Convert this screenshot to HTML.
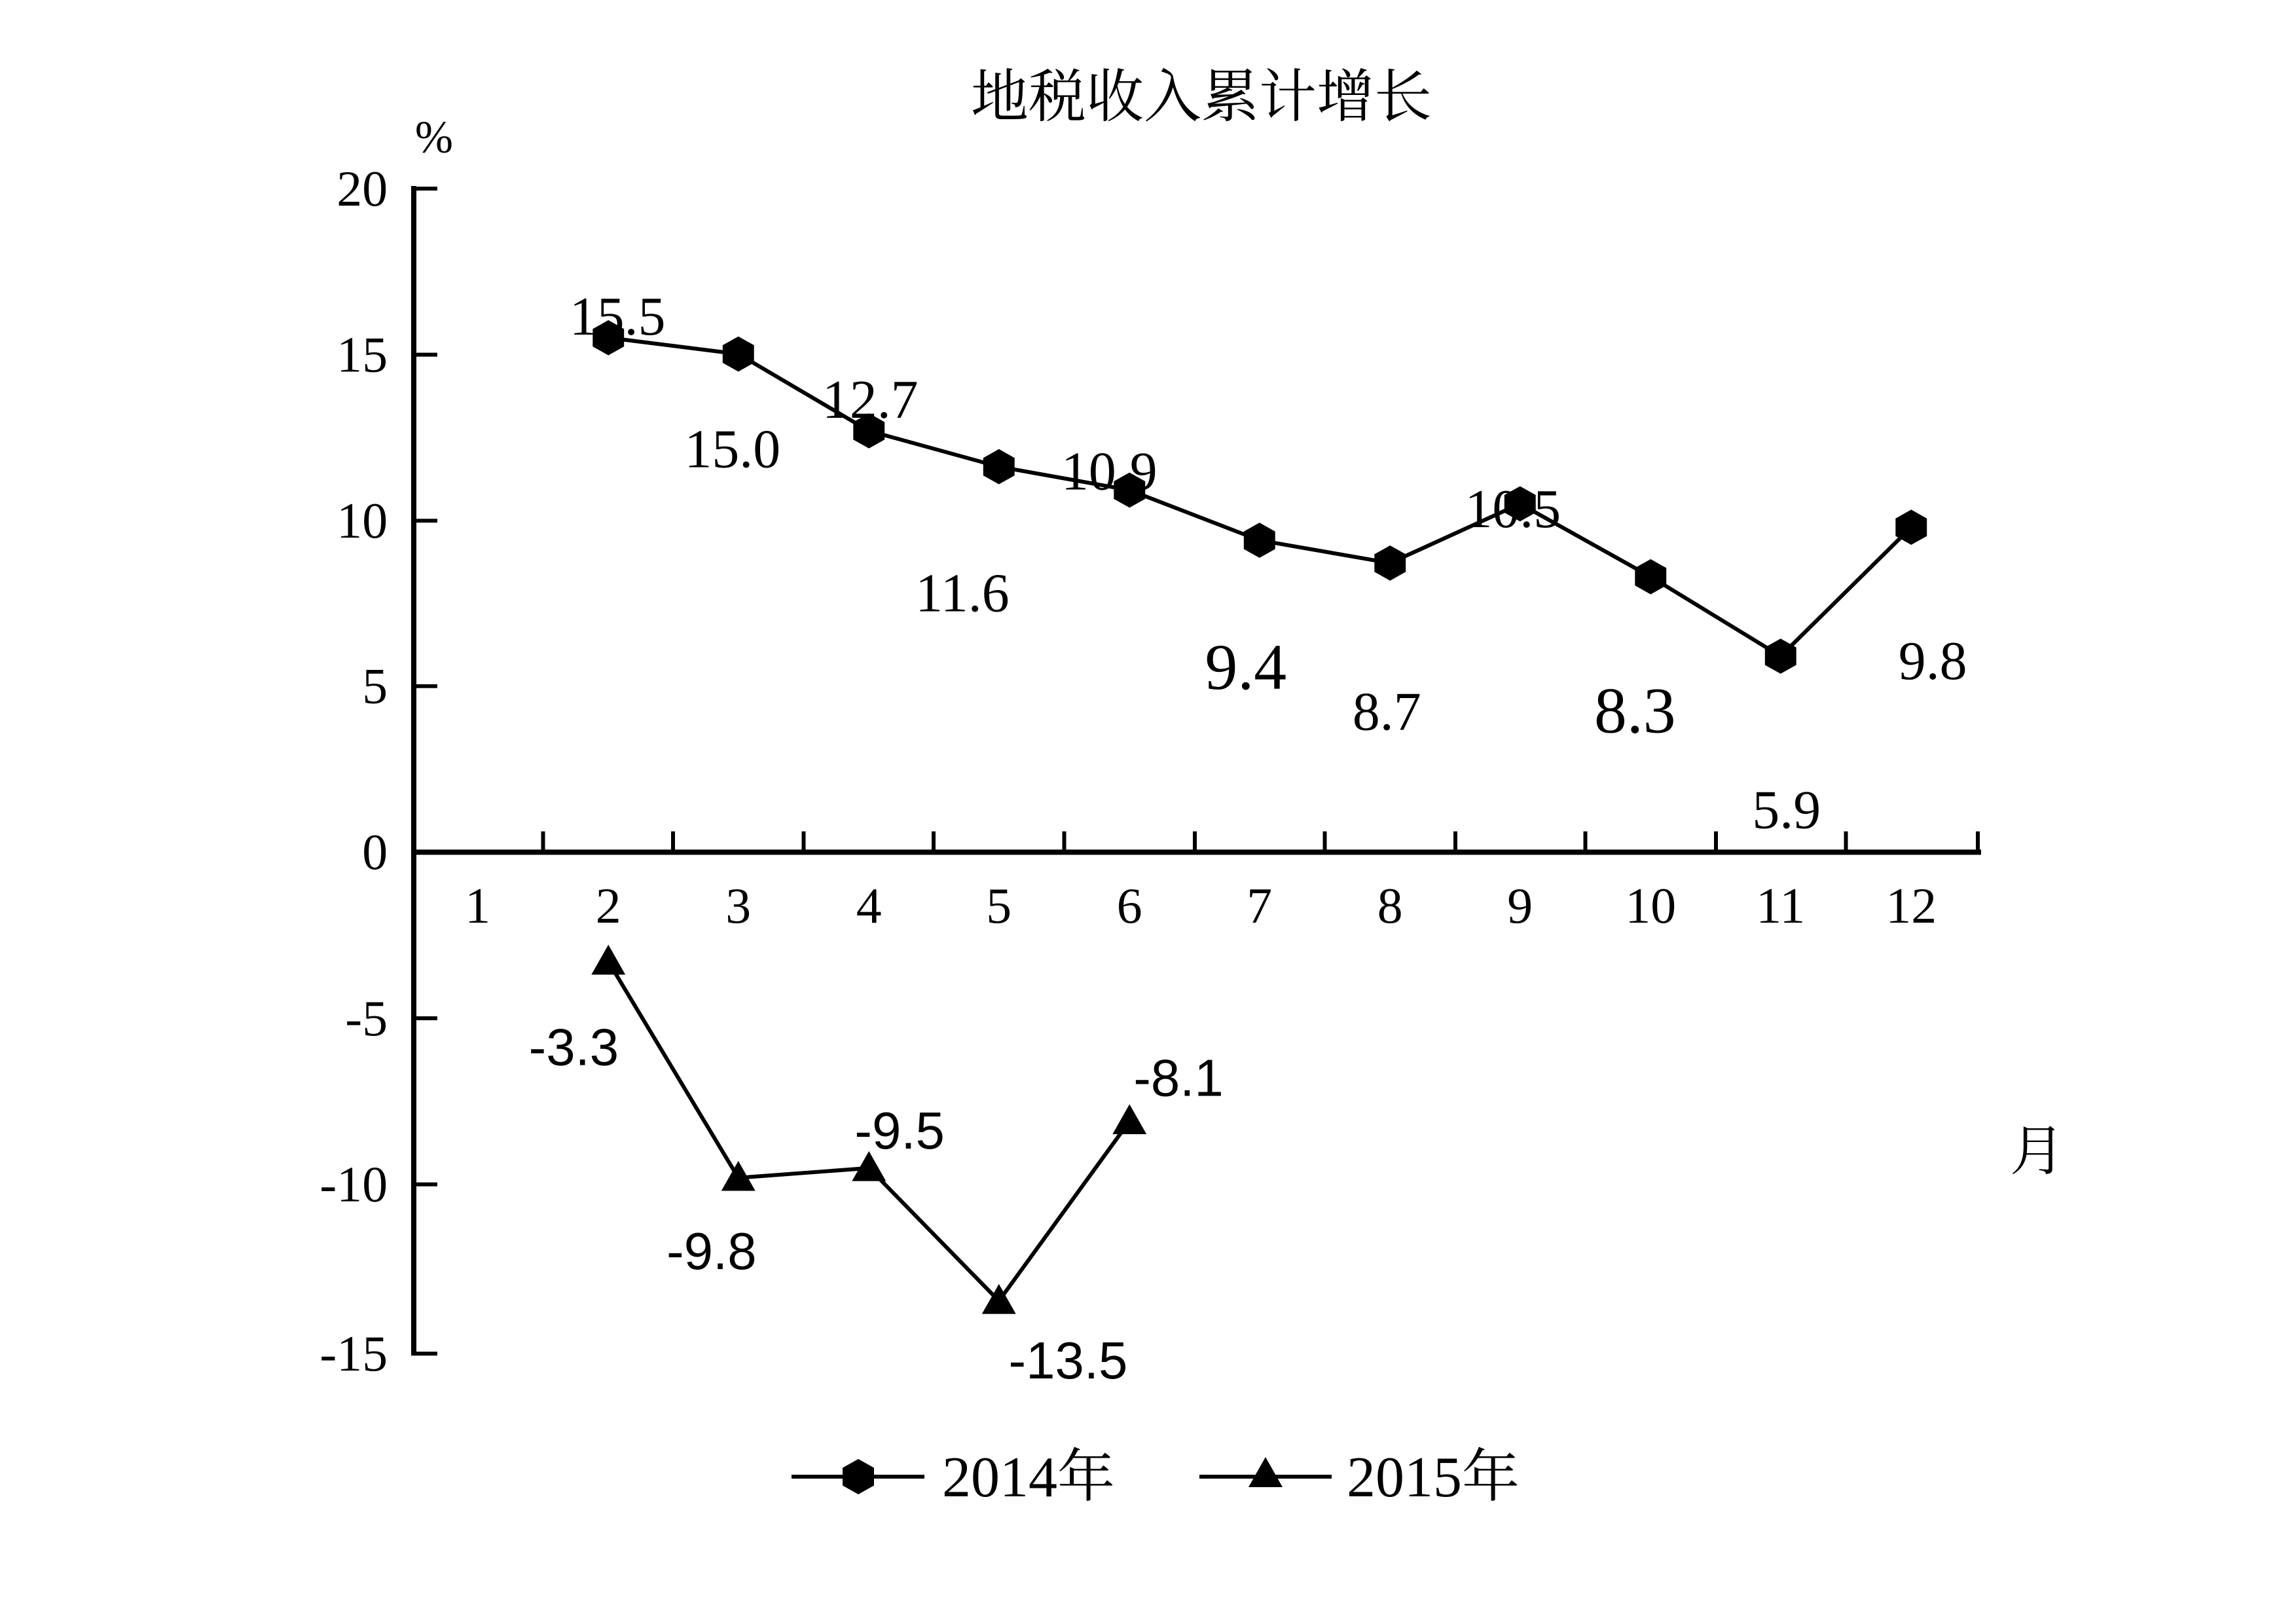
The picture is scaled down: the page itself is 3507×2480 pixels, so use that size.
<!DOCTYPE html>
<html><head><meta charset="utf-8"><style>
html,body{margin:0;padding:0;background:#fff}
svg{display:block}
.s{font-family:"Liberation Serif","Noto Serif CJK SC",serif;fill:#000}
.a{font-family:"Liberation Sans","Noto Sans CJK SC",sans-serif;fill:#000}
</style></head><body>
<svg width="3507" height="2480" viewBox="0 0 3507 2480" xmlns="http://www.w3.org/2000/svg">
<defs>
<polygon id="hx" points="0,-27 24,-13.5 24,13.5 0,27 -24,13.5 -24,-13.5"/>
<polygon id="tr" points="0,-26 26,20 -26,20"/>
</defs>
<text class="s" x="1835" y="178" font-size="88" text-anchor="middle">地税收入累计增长</text>
<g transform="translate(632,288) scale(0.9975,0.9945) translate(-632,-288)">
<text class="s" x="663" y="232" font-size="70" text-anchor="middle">%</text>
<g stroke="#000" stroke-width="8" fill="none">
<line x1="632" y1="284" x2="632" y2="2080"/>
<line x1="628" y1="1307" x2="3032" y2="1307"/>
</g>
<g stroke="#000" stroke-width="6">
<line x1="632" y1="288" x2="668" y2="288"/>
<line x1="632" y1="543" x2="668" y2="543"/>
<line x1="632" y1="798" x2="668" y2="798"/>
<line x1="632" y1="1052" x2="668" y2="1052"/>
<line x1="632" y1="1562" x2="668" y2="1562"/>
<line x1="632" y1="1817" x2="668" y2="1817"/>
<line x1="632" y1="2077" x2="668" y2="2077"/>
<line x1="830" y1="1307" x2="830" y2="1275"/>
<line x1="1029" y1="1307" x2="1029" y2="1275"/>
<line x1="1229" y1="1307" x2="1229" y2="1275"/>
<line x1="1428" y1="1307" x2="1428" y2="1275"/>
<line x1="1628" y1="1307" x2="1628" y2="1275"/>
<line x1="1828" y1="1307" x2="1828" y2="1275"/>
<line x1="2027" y1="1307" x2="2027" y2="1275"/>
<line x1="2227" y1="1307" x2="2227" y2="1275"/>
<line x1="2426" y1="1307" x2="2426" y2="1275"/>
<line x1="2626" y1="1307" x2="2626" y2="1275"/>
<line x1="2825" y1="1307" x2="2825" y2="1275"/>
<line x1="3027" y1="1310" x2="3027" y2="1275"/>
</g>
<g class="s" font-size="78" text-anchor="end">
<text x="592" y="314">20</text>
<text x="592" y="569">15</text>
<text x="592" y="824">10</text>
<text x="592" y="1078">5</text>
<text x="592" y="1333">0</text>
<text x="592" y="1588">-5</text>
<text x="592" y="1843">-10</text>
<text x="592" y="2103">-15</text>
</g>
<g class="s" font-size="78" text-anchor="middle">
<text x="730" y="1415">1</text><text x="930" y="1415">2</text><text x="1129" y="1415">3</text>
<text x="1329" y="1415">4</text><text x="1528" y="1415">5</text><text x="1728" y="1415">6</text>
<text x="1927" y="1415">7</text><text x="2127" y="1415">8</text><text x="2326" y="1415">9</text>
<text x="2526" y="1415">10</text><text x="2725" y="1415">11</text><text x="2925" y="1415">12</text>
</g>
<text class="s" x="3118" y="1795" font-size="84" text-anchor="middle">月</text>
<polyline fill="none" stroke="#000" stroke-width="6" points="930,517 1129,542 1329,660 1528,715 1728,751 1927,828 2127,863 2326,772 2526,884 2725,1006 2925,808"/>
<g fill="#000">
<use href="#hx" x="930" y="517"/><use href="#hx" x="1129" y="542"/><use href="#hx" x="1329" y="660"/>
<use href="#hx" x="1528" y="715"/><use href="#hx" x="1728" y="751"/><use href="#hx" x="1927" y="828"/>
<use href="#hx" x="2127" y="863"/><use href="#hx" x="2326" y="772"/><use href="#hx" x="2526" y="884"/>
<use href="#hx" x="2725" y="1006"/><use href="#hx" x="2925" y="808"/>
</g>
<g class="s" font-size="84" text-anchor="middle">
<text x="944" y="512">15.5</text>
<text x="1120" y="716">15.0</text>
<text x="1331" y="640">12.7</text>
<text x="1472" y="937">11.6</text>
<text x="1697" y="750">10.9</text>
<text x="1906" y="1056" font-size="100">9.4</text>
<text x="2122" y="1119">8.7</text>
<text x="2315" y="808">10.5</text>
<text x="2502" y="1123" font-size="100">8.3</text>
<text x="2734" y="1270">5.9</text>
<text x="2958" y="1041">9.8</text>
</g>
<polyline fill="none" stroke="#000" stroke-width="6" points="930,1475 1129,1807 1329,1792 1528,1996 1728,1720"/>
<g fill="#000">
<use href="#tr" x="930" y="1475"/><use href="#tr" x="1129" y="1807"/><use href="#tr" x="1329" y="1792"/>
<use href="#tr" x="1528" y="1996"/><use href="#tr" x="1728" y="1720"/>
</g>
<g class="a" font-size="80" text-anchor="middle">
<text x="877" y="1634">-3.3</text>
<text x="1088" y="1947">-9.8</text>
<text x="1376" y="1762">-9.5</text>
<text x="1634" y="2115">-13.5</text>
<text x="1803" y="1681">-8.1</text>
</g>
</g>
<line x1="1209" y1="2255" x2="1412" y2="2255" stroke="#000" stroke-width="6"/>
<use href="#hx" x="1311" y="2255" fill="#000"/>
<text class="s" x="1439" y="2285" font-size="88">2014年</text>
<line x1="1832" y1="2255" x2="2034" y2="2255" stroke="#000" stroke-width="6"/>
<use href="#tr" x="1933" y="2251" fill="#000"/>
<text class="s" x="2057" y="2285" font-size="88">2015年</text>
</svg>
</body></html>
